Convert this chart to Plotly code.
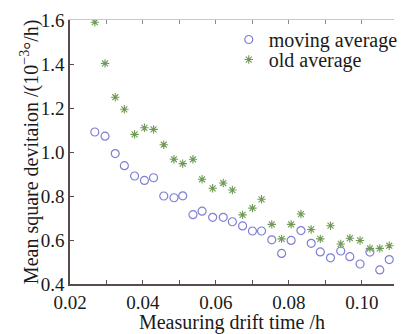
import plotly.graph_objects as go

drift_time = [0.0268, 0.0296, 0.0324, 0.0349, 0.0377, 0.0404, 0.0429, 0.0457,
              0.0485, 0.0509, 0.0537, 0.0562, 0.0591, 0.0620, 0.0645, 0.0673,
              0.0700, 0.0725, 0.0753, 0.0780, 0.0806, 0.0833, 0.0861, 0.0886,
              0.0914, 0.0942, 0.0967, 0.0995, 0.1022, 0.1049, 0.1075]

moving_avg = [1.091, 1.072, 0.993, 0.938, 0.891, 0.871, 0.883, 0.800,
              0.792, 0.801, 0.715, 0.731, 0.703, 0.703, 0.683, 0.664,
              0.641, 0.641, 0.601, 0.539, 0.598, 0.643, 0.585, 0.546,
              0.519, 0.550, 0.524, 0.491, 0.545, 0.464, 0.511]

old_avg = [1.590, 1.403, 1.249, 1.194, 1.080, 1.110, 1.103, 1.033,
           0.967, 0.947, 0.967, 0.876, 0.835, 0.859, 0.827, 0.714,
           0.745, 0.785, 0.671, 0.605, 0.671, 0.718, 0.648, 0.605,
           0.665, 0.582, 0.608, 0.598, 0.562, 0.562, 0.574]

x_ticks = [0.02, 0.04, 0.06, 0.08, 0.10]
x_labels = ["0.02", "0.04", "0.06", "0.08", "0.10"]
y_ticks = [0.4, 0.6, 0.8, 1.0, 1.2, 1.4, 1.6]
y_labels = ["0.4", "0.6", "0.8", "1.0", "1.2", "1.4", "1.6"]
y_title = "Mean square devitaion /(10<sup>−3</sup>°/h)"

FONT = "Liberation Serif"
AX = "#5a4b4b"

fig = go.Figure()
fig.add_trace(go.Scatter(
    x=drift_time, y=moving_avg, mode="markers", name="moving average",
    legend="legend",
    marker=dict(symbol="circle-open", size=8, color="#7f7fd2",
                line=dict(width=1.2, color="#7f7fd2")),
))
fig.add_trace(go.Scatter(
    x=drift_time, y=old_avg, mode="markers", name="old average",
    legend="legend2",
    marker=dict(symbol="asterisk-open", size=7, color="#6f9a55",
                line=dict(width=1.1, color="#6f9a55")),
))
# invisible trace to drive a top axis
fig.add_trace(go.Scatter(x=[drift_time[0]], y=[moving_avg[0]], xaxis="x2",
                         mode="markers", marker=dict(opacity=0),
                         showlegend=False, hoverinfo="skip"))

leg = dict(xanchor="left", yanchor="top", bgcolor="rgba(0,0,0,0)",
           font=dict(family=FONT, size=20), itemwidth=30)

fig.update_layout(
    width=403, height=334,
    margin=dict(l=70, r=0, t=20, b=50),
    paper_bgcolor="white", plot_bgcolor="white",
    font=dict(family=FONT, size=18, color="#1a1a1a"),
    showlegend=True,
    legend=dict(x=0.49, y=1.0, **leg),
    legend2=dict(x=0.49, y=0.924, **leg),
    xaxis=dict(
        range=[0.02, 0.1088], showgrid=False, zeroline=False,
        showline=True, linecolor=AX, linewidth=1.5,
        tickmode="array", tickvals=x_ticks, ticktext=x_labels,
        ticks="inside", ticklen=4, tickcolor=AX,
        minor=dict(tickmode="linear", tick0=0.02, dtick=0.01, ticks="inside",
                   ticklen=4, tickcolor=AX, showgrid=False),
        tickfont=dict(family=FONT, size=19),
        title=dict(text="Measuring drift time /h", standoff=8,
                   font=dict(family=FONT, size=20)),
    ),
    xaxis2=dict(
        overlaying="x", side="top", matches="x", range=[0.02, 0.1088],
        showgrid=False, zeroline=False, showline=True, linecolor="#c8c8c8",
        linewidth=1, tickmode="linear", tick0=0.02, dtick=0.01,
        ticks="inside", ticklen=4, tickcolor="#8a8a8a", showticklabels=False,
    ),
    yaxis=dict(
        range=[0.4, 1.6], showgrid=False, zeroline=False,
        showline=True, linecolor=AX, linewidth=1.5,
        tickmode="array", tickvals=y_ticks, ticktext=y_labels,
        ticks="inside", ticklen=4, tickcolor=AX,
        tickfont=dict(family=FONT, size=19),
    ),
    annotations=[dict(
        text=y_title, textangle=-90, showarrow=False,
        xref="paper", yref="paper", x=-42 / 333, y=0.5,
        xanchor="center", yanchor="middle",
        font=dict(family=FONT, size=20, color="#1a1a1a"),
    )],
)

fig.write_html("out.html")
